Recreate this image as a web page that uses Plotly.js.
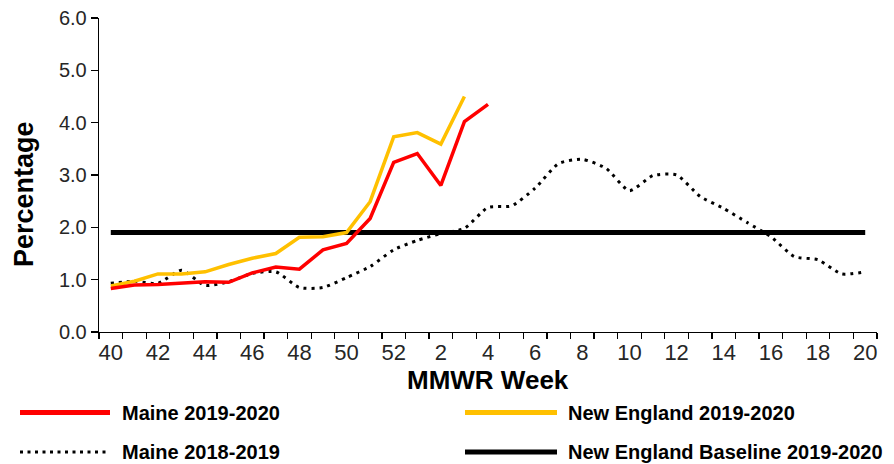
<!DOCTYPE html>
<html>
<head>
<meta charset="utf-8">
<script src="https://cdn.plot.ly/plotly-3.0.1.min.js"></script>
<style>
  html, body { margin: 0; padding: 0; background: #ffffff; }
  #chart { width: 894px; height: 464px; }
</style>
</head>
<body>
<div id="chart"></div>
<script>
// MMWR weeks (categories)
const weeks = ['40','41','42','43','44','45','46','47','48','49','50','51','52',
               '1','2','3','4','5','6','7','8','9','10','11','12','13','14','15','16','17','18','19','20'];

// Series values (percentage)
const maine20192020 = [0.83, 0.90, 0.91, 0.94, 0.96, 0.95, 1.13, 1.24, 1.20, 1.57, 1.69, 2.17, 3.24,
                       3.41, 2.80, 4.02, 4.35];
const newEngland20192020 = [0.88, 0.97, 1.11, 1.11, 1.15, 1.29, 1.41, 1.50, 1.81, 1.82, 1.90, 2.49, 3.73,
                            3.81, 3.59, 4.50];
const maine20182019 = [0.93, 0.97, 0.93, 1.18, 0.89, 0.96, 1.12, 1.15, 0.85, 0.85, 1.04, 1.25, 1.57,
                       1.75, 1.88, 1.98, 2.38, 2.41, 2.75, 3.22, 3.30, 3.13, 2.70, 2.99, 3.00, 2.59,
                       2.36, 2.09, 1.82, 1.44, 1.38, 1.11, 1.15];
const newEnglandBaseline = [1.9, 1.9, 1.9, 1.9, 1.9, 1.9, 1.9, 1.9, 1.9, 1.9, 1.9, 1.9, 1.9,
                            1.9, 1.9, 1.9, 1.9, 1.9, 1.9, 1.9, 1.9, 1.9, 1.9, 1.9, 1.9, 1.9,
                            1.9, 1.9, 1.9, 1.9, 1.9, 1.9, 1.9];

// Tick labels (every other week)
const tickLabels = ['40','','42','','44','','46','','48','','50','','52',
                    '','2','','4','','6','','8','','10','','12','','14','','16','','18','','20'];

const seriesNames = ['Maine 2019-2020', 'New England 2019-2020', 'Maine 2018-2019', 'New England Baseline 2019-2020'];
const seriesColors = ['#FF0000', '#FFC000', '#000000', '#000000'];

const FONT = 'Liberation Sans, Arial, sans-serif';

const traces = [
  { x: weeks.slice(0, newEnglandBaseline.length), y: newEnglandBaseline, type: 'scatter', mode: 'lines',
    name: seriesNames[3], line: { color: seriesColors[3], width: 5 } },
  { x: weeks.slice(0, maine20182019.length), y: maine20182019, type: 'scatter', mode: 'lines',
    name: seriesNames[2], line: { color: seriesColors[2], width: 3, dash: '3px,5px', shape: 'spline', smoothing: 0.6 } },
  { x: weeks.slice(0, newEngland20192020.length), y: newEngland20192020, type: 'scatter', mode: 'lines',
    name: seriesNames[1], line: { color: seriesColors[1], width: 3.5 } },
  { x: weeks.slice(0, maine20192020.length), y: maine20192020, type: 'scatter', mode: 'lines',
    name: seriesNames[0], line: { color: seriesColors[0], width: 3.5 } }
];

// plot area in pixels
const L = 99, R = 877, T = 18, B = 332;
const px = v => (v - L) / (R - L);
const py = v => (B - v) / (B - T);

// manual legend (two columns)
const legendItems = [
  { name: seriesNames[0], color: seriesColors[0], dash: 'solid', width: 5, x0: 20, x1: 110, tx: 120, y: 412.5 },
  { name: seriesNames[1], color: seriesColors[1], dash: 'solid', width: 5, x0: 465, x1: 557, tx: 566, y: 412.5 },
  { name: seriesNames[2], color: seriesColors[2], dash: '3px,4.5px', width: 3, x0: 20, x1: 110, tx: 120, y: 452 },
  { name: seriesNames[3], color: seriesColors[3], dash: 'solid', width: 5, x0: 465, x1: 557, tx: 566, y: 452 }
];

const shapes = legendItems.map(it => ({
  type: 'line', xref: 'paper', yref: 'paper',
  x0: px(it.x0), x1: px(it.x1), y0: py(it.y), y1: py(it.y),
  line: { color: it.color, width: it.width, dash: it.dash }
}));

const annotations = legendItems.map(it => ({
  xref: 'paper', yref: 'paper', x: px(it.tx), y: py(it.y),
  xanchor: 'left', yanchor: 'middle', showarrow: false,
  text: it.name, font: { family: FONT, size: 20, color: '#000000', weight: 'bold' }
}));

annotations.push({
  xref: 'paper', yref: 'paper', x: px(24), y: py(194),
  xanchor: 'center', yanchor: 'middle', showarrow: false, textangle: -90,
  text: 'Percentage', font: { family: FONT, size: 27, color: '#000000', weight: 'bold' }
});

annotations.push({
  xref: 'paper', yref: 'paper', x: px(488), y: py(380),
  xanchor: 'center', yanchor: 'middle', showarrow: false,
  text: 'MMWR Week', font: { family: FONT, size: 26, color: '#000000', weight: 'bold' }
});

const layout = {
  width: 894, height: 464,
  margin: { l: L, r: 894 - R, t: T, b: 464 - B },
  paper_bgcolor: '#ffffff', plot_bgcolor: '#ffffff',
  showlegend: false,
  xaxis: {
    type: 'category', range: [-0.5, weeks.length - 0.5],
    tickmode: 'array', tickvals: weeks, ticktext: tickLabels, tickangle: 0,
    tickson: 'boundaries', ticks: 'outside', ticklen: 6, tickwidth: 1.3, tickcolor: '#000',
    showline: true, linecolor: '#000', linewidth: 1.3, showgrid: false, zeroline: false,
    tickfont: { family: FONT, size: 22, color: '#262626' }
  },
  yaxis: {
    range: [0, 6], dtick: 1, tick0: 0, tickformat: '.1f',
    ticks: 'outside', ticklen: 7, tickwidth: 1.3, tickcolor: '#000',
    showline: true, linecolor: '#000', linewidth: 1.3, showgrid: false, zeroline: false,
    tickfont: { family: FONT, size: 20, color: '#262626' }
  },
  shapes: shapes,
  annotations: annotations
};

Plotly.newPlot('chart', traces, layout, { displayModeBar: false, staticPlot: true });
</script>
</body>
</html>
